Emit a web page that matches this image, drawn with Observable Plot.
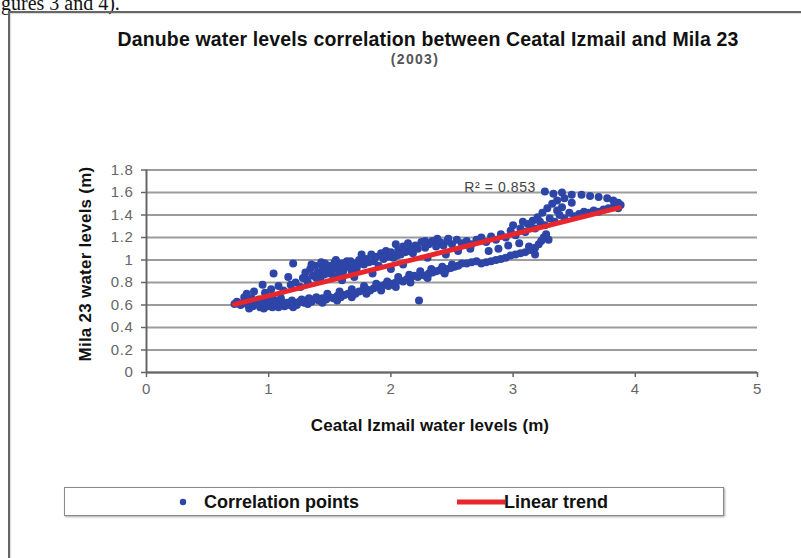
<!DOCTYPE html>
<html>
<head>
<meta charset="utf-8">
<script src="https://cdn.jsdelivr.net/npm/d3@7"></script>
<script src="https://cdn.jsdelivr.net/npm/@observablehq/plot@0.6"></script>
<style>
  html, body { margin: 0; padding: 0; background: #fff; }
  #page { position: relative; width: 801px; height: 558px; overflow: hidden; font-family: "Liberation Sans", Arial, sans-serif; }
  #page > * { position: absolute; }
  #stray { left: 1px; top: -7px; font: 20px/20px "Liberation Serif", "Times New Roman", serif; color: #111; white-space: nowrap; }
  #frame { left: 8px; top: 11px; width: 820px; height: 580px; border-left: 2px solid #666; border-top: 2px solid #666; box-shadow: inset 1px 1px 1px rgba(0,0,0,0.15); }
  #title { left: 28px; width: 800px; top: 30px; text-align: center; font-weight: bold; font-size: 19.5px; line-height: 19.5px; letter-spacing: 0.15px; color: #111; white-space: nowrap; }
  #subtitle { left: 15px; width: 800px; top: 52px; text-align: center; font-weight: bold; font-size: 14px; line-height: 14px; letter-spacing: 1.3px; color: #555; white-space: nowrap; }
  #xtitle { left: 30px; width: 800px; top: 416.5px; text-align: center; font-weight: bold; font-size: 17px; line-height: 17px; letter-spacing: 0.1px; color: #111; white-space: nowrap; }
  #ytitle { left: -14px; top: 254px; width: 200px; height: 20px; line-height: 20px; text-align: center; font-weight: bold; font-size: 17px; letter-spacing: 0.25px; color: #111; white-space: nowrap; transform: rotate(-90deg); }
  #legend { left: 64px; top: 487px; width: 658px; height: 27px; border: 1.5px solid #8a8a8a; box-shadow: 1px 1px 2px rgba(0,0,0,0.35); background: #fff; }
  .lg { position: absolute; font-weight: bold; font-size: 18px; line-height: 18px; color: #111; white-space: nowrap; top: 492.8px; }
  #chart { left: 0; top: 0; }
  #chart svg text { letter-spacing: 0.6px; }
</style>
</head>
<body>
<div id="page">
  <div id="stray">gures 3 and 4).</div>
  <div id="frame"></div>
  <div id="chart"></div>
  <div id="title">Danube water levels correlation between Ceatal Izmail and Mila 23</div>
  <div id="subtitle">(2003)</div>
  <div id="xtitle">Ceatal Izmail water levels (m)</div>
  <div id="ytitle">Mila 23 water levels (m)</div>
  <div id="legend"></div>
  <svg id="lgdot" width="10" height="10" style="left:178px; top:497px;"></svg>
  <svg id="lgline" width="48" height="8" style="left:457px; top:498px;"></svg>
  <div class="lg" style="left:204px;">Correlation points</div>
  <div class="lg" style="left:504px;">Linear trend</div>
</div>
<script>
// Ceatal Izmail water level (m) — x values of the correlation points
const ceatalX = [
  0.72,0.74,0.77,0.79,0.81,0.83,0.85,0.87,0.89,0.91,
  0.93,0.95,0.97,0.99,1.01,1.03,1.05,1.07,1.09,1.11,
  1.13,1.15,1.17,1.19,1.21,1.23,1.25,1.27,1.29,1.31,
  1.33,1.35,1.37,1.39,0.80,0.86,0.92,0.98,1.04,1.10,
  1.41,1.44,1.47,1.50,1.53,1.56,1.59,1.62,1.65,1.68,
  1.71,1.74,1.77,1.80,1.83,1.86,1.89,1.92,1.95,1.98,
  2.01,2.04,2.07,2.10,2.13,2.16,2.19,2.22,2.25,2.28,
  2.31,2.34,2.37,2.40,2.43,2.46,2.49,2.52,2.55,2.58,
  1.48,1.58,1.68,1.78,1.88,1.97,2.06,2.15,2.24,2.33,
  2.42,2.50,2.23,
  2.62,2.66,2.70,2.74,2.78,2.82,2.86,2.90,2.94,2.98,
  3.02,3.06,3.10,3.14,3.18,3.21,3.23,3.25,3.27,
  0.82,0.88,0.95,0.97,1.02,1.04,1.08,1.12,1.16,1.18,
  1.20,1.22,1.26,1.28,1.30,1.32,1.34,1.36,1.38,1.40,
  1.42,1.44,1.46,1.48,1.50,1.52,1.54,1.56,1.58,1.60,
  1.62,1.64,1.66,1.68,1.70,1.72,1.74,1.76,1.78,1.80,
  1.82,1.84,1.86,1.88,1.90,1.92,1.94,1.96,1.98,2.00,
  2.02,2.04,2.06,2.08,2.10,2.12,2.14,2.16,2.18,2.20,
  2.22,2.25,2.28,2.31,2.34,2.37,2.40,2.43,2.46,2.50,
  2.54,2.58,2.62,2.66,2.70,
  1.60,1.70,1.85,2.00,2.10,2.30,2.45,2.55,2.65,
  2.74,2.78,2.82,2.86,2.90,2.94,2.98,3.02,3.06,3.10,
  3.14,3.18,3.22,3.26,3.30,3.34,3.38,3.42,3.46,3.50,
  3.54,3.58,3.62,3.66,3.70,3.74,3.78,3.82,3.86,3.88,
  3.86,3.82,3.77,3.70,3.63,3.56,3.48,3.40,3.33,3.26,
  3.28,3.32,3.36,3.42,3.48,3.40,3.24,3.20,3.16,3.12,
  3.05,3.13,3.18,3.29,2.96,2.88,2.80,3.00,3.08,3.36,
  1.31,1.35,1.39,1.43,1.45,1.49,1.53,1.55,1.57,1.61,
  1.63,1.67,1.69,1.73,1.52,1.46,
  0.84,0.96,1.08,1.20,1.32,1.44,1.56,1.68,1.80,1.92,
  2.04,2.16,2.30,2.44,
  2.05,2.15,2.28,2.38,2.47
];
// Mila 23 water level (m) — y values of the correlation points (same order)
const milaY = [
  0.61,0.63,0.60,0.62,0.64,0.60,0.62,0.59,0.63,0.61,
  0.58,0.60,0.63,0.59,0.61,0.58,0.62,0.60,0.63,0.61,
  0.59,0.62,0.60,0.64,0.62,0.60,0.63,0.65,0.62,0.64,
  0.66,0.63,0.65,0.67,0.67,0.66,0.65,0.66,0.65,0.66,
  0.64,0.66,0.65,0.67,0.66,0.68,0.67,0.69,0.70,0.71,
  0.70,0.72,0.73,0.74,0.73,0.75,0.76,0.77,0.78,0.77,
  0.79,0.80,0.82,0.81,0.83,0.84,0.86,0.85,0.87,0.86,
  0.88,0.89,0.90,0.91,0.90,0.92,0.93,0.94,0.95,0.97,
  0.70,0.72,0.74,0.77,0.79,0.81,0.85,0.87,0.90,0.92,
  0.94,0.96,0.64,
  0.97,0.98,0.99,0.97,0.98,0.99,1.00,1.01,1.02,1.04,
  1.05,1.06,1.07,1.09,1.11,1.14,1.17,1.20,1.23,
  0.70,0.72,0.78,0.71,0.74,0.88,0.77,0.73,0.85,0.78,
  0.97,0.80,0.76,0.84,0.89,0.80,0.92,0.86,0.95,0.89,
  0.83,0.93,0.97,0.88,0.95,0.91,0.98,0.94,0.89,0.97,
  0.93,0.99,0.95,0.90,0.97,0.93,1.00,1.05,0.96,1.01,
  0.98,1.05,0.99,1.03,0.95,1.06,1.01,1.08,1.03,1.07,
  1.02,1.14,1.09,1.05,1.12,1.07,1.15,1.10,1.06,1.13,
  1.10,1.16,1.11,1.14,1.17,1.12,1.16,1.13,1.17,1.14,
  1.18,1.15,1.17,1.14,1.18,
  0.82,0.85,0.88,0.92,0.96,1.02,1.05,1.08,1.10,
  1.20,1.16,1.21,1.18,1.23,1.20,1.26,1.22,1.28,1.25,
  1.31,1.28,1.34,1.31,1.37,1.34,1.40,1.37,1.42,1.39,
  1.41,1.43,1.42,1.44,1.43,1.45,1.46,1.47,1.46,1.49,
  1.51,1.53,1.55,1.56,1.57,1.58,1.58,1.60,1.59,1.61,
  1.46,1.50,1.53,1.55,1.51,1.47,1.42,1.38,1.35,1.32,
  1.15,1.12,1.05,1.18,1.13,1.10,1.08,1.31,1.34,1.44,
  0.83,0.96,0.84,0.98,0.87,0.92,0.85,1.00,0.86,0.90,
  0.96,0.99,0.88,0.96,0.94,0.91,
  0.57,0.57,0.58,0.58,0.61,0.62,0.64,0.67,0.70,0.73,
  0.76,0.80,0.84,0.88,
  1.04,1.08,1.17,1.19,1.19
];
// Linear trend end points
const trendX = [0.72, 3.87];
const trendY = [0.605, 1.465];
// R² annotation
const r2Text = ["R² = 0.853"];
const r2X = [2.6];
const r2Y = [1.64];
// Axis ticks
const xTicks = [0, 1, 2, 3, 4, 5];
const yTicks = [0, 0.2, 0.4, 0.6, 0.8, 1, 1.2, 1.4, 1.6, 1.8];

const points = ceatalX.map((x, i) => ({x, y: milaY[i]}));
const trend = trendX.map((x, i) => ({x, y: trendY[i]}));
const r2 = r2Text.map((t, i) => ({t, x: r2X[i], y: r2Y[i]}));

const dotColor = "#2e45a8";
const lineColor = "#e8262b";

const chart = Plot.plot({
  width: 801,
  height: 440,
  marginLeft: 146,
  marginRight: 44,
  marginTop: 169.5,
  marginBottom: 68,
  style: {background: "transparent", fontFamily: "'Liberation Sans', Arial, sans-serif", overflow: "visible"},
  x: {domain: [0, 5]},
  y: {domain: [0, 1.8]},
  marks: [
    Plot.gridY(yTicks, {stroke: "#9c9c9c", strokeOpacity: 1, strokeWidth: 2}),
    Plot.axisY(yTicks, {tickSize: 5, tickPadding: 8, fontSize: 15, color: "#666", strokeWidth: 1.5, tickFormat: d => String(d), label: null}),
    Plot.axisX(xTicks, {tickSize: 5, tickPadding: 6, fontSize: 15, color: "#666", strokeWidth: 1.5, tickFormat: d => String(d), label: null}),
    Plot.ruleX([0], {y1: 0, y2: 1.8, stroke: "#666", strokeWidth: 2}),
    Plot.ruleY([0], {x1: 0, x2: 5, stroke: "#666", strokeWidth: 2}),
    Plot.text(r2, {x: "x", y: "y", text: "t", textAnchor: "start", fontSize: 14, fill: "#444"}),
    Plot.dot(points, {x: "x", y: "y", r: 4, fill: dotColor, stroke: "none"}),
    Plot.line(trend, {x: "x", y: "y", stroke: lineColor, strokeWidth: 5})
  ]
});
document.getElementById("chart").appendChild(chart);

// legend swatches
d3.select("#lgdot").append("circle").attr("cx", 5).attr("cy", 5).attr("r", 3.2).attr("fill", dotColor);
d3.select("#lgline").append("line").attr("x1", 0).attr("x2", 48).attr("y1", 4).attr("y2", 4).attr("stroke", lineColor).attr("stroke-width", 5);
</script>
</body>
</html>
